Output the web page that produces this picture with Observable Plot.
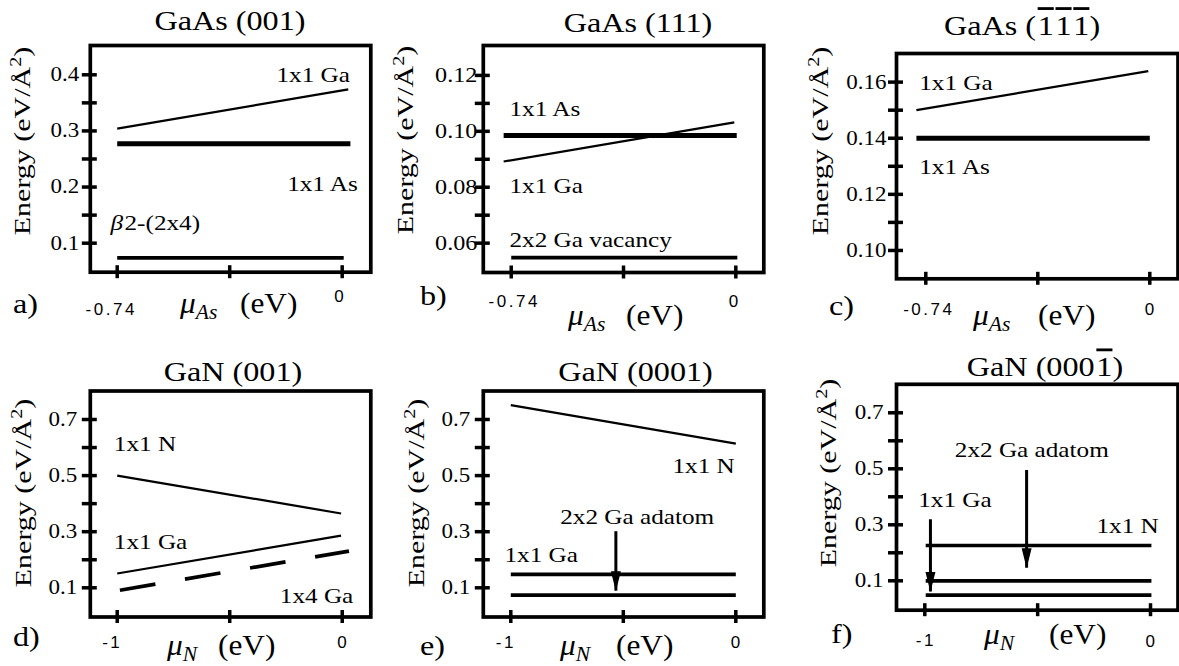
<!DOCTYPE html>
<html><head><meta charset="utf-8">
<script src="https://cdn.jsdelivr.net/npm/d3@7"></script>
<script src="https://cdn.jsdelivr.net/npm/@observablehq/plot@0.6"></script>
<style>
body{margin:0;background:#fff}
#root{position:relative;width:1179px;height:666px;overflow:hidden;background:#fff}
.panel{position:absolute;width:393px;height:333px}
.panel svg{position:absolute;left:0;top:0;overflow:visible}
.ov text, .ov tspan{font-family:"Liberation Serif", serif; fill:#000}
</style></head><body><div id="root"></div>
<script>
// ===================== DATA =====================
const panelTitles = ["GaAs (001)", "GaAs (111)", "GaAs (1\u03041\u03041\u0304)", "GaN (001)", "GaN (0001)", "GaN (0001\u0304)"];
const panelLetters = ["a)", "b)", "c)", "d)", "e)", "f)"];
const muSubscripts = ["As", "As", "As", "N", "N", "N"];

// GaAs (001)
const a_xTicks = [-0.74, -0.37, 0];
const a_xTickText = ["-0.74", "", "0"];
const a_yTicks = [0.1, 0.2, 0.3, 0.4];
const a_yTickText = ["0.1", "0.2", "0.3", "0.4"];
const a_yMinor = [0.15, 0.25, 0.35];
const a_ga1x1_mu = [-0.74, 0.02],  a_ga1x1_E = [0.304, 0.374];
const a_as1x1_mu = [-0.74, 0.027], a_as1x1_E = [0.277, 0.277];
const a_beta_mu  = [-0.74, 0.005], a_beta_E  = [0.074, 0.074];
const a_labelText = ["1x1 Ga", "1x1 As"];
const a_labelMu   = [-0.216, -0.181];
const a_labelE    = [0.3868, 0.1926];
const a_betaLabel = ["\u03b2", "2-(2x4)"]; const a_betaLabelMu = -0.762, a_betaLabelE = 0.1226;

// GaAs (111)
const b_xTicks = [-0.74, -0.37, 0];
const b_xTickText = ["-0.74", "", "0"];
const b_yTicks = [0.06, 0.08, 0.10, 0.12];
const b_yTickText = ["0.06", "0.08", "0.10", "0.12"];
const b_yMinor = [0.07, 0.09, 0.11];
const b_as1x1_mu = [-0.765, 0.003], b_as1x1_E = [0.0985, 0.0985];
const b_ga1x1_mu = [-0.765, -0.005], b_ga1x1_E = [0.0892, 0.1032];
const b_vac_mu   = [-0.74, 0.005],  b_vac_E   = [0.0548, 0.0548];
const b_labelText = ["1x1 As", "1x1 Ga", "2x2 Ga vacancy"];
const b_labelMu   = [-0.7456, -0.7456, -0.7456];
const b_labelE    = [0.1054, 0.0779, 0.0586];

// GaAs (-1-1-1)
const c_xTicks = [-0.74, -0.37, 0];
const c_xTickText = ["-0.74", "", "0"];
const c_yTicks = [0.10, 0.12, 0.14, 0.16];
const c_yTickText = ["0.10", "0.12", "0.14", "0.16"];
const c_yMinor = [0.11, 0.13, 0.15];
const c_ga1x1_mu = [-0.771, -0.005], c_ga1x1_E = [0.150, 0.1639];
const c_as1x1_mu = [-0.771, 0],      c_as1x1_E = [0.140, 0.140];
const c_labelText = ["1x1 Ga", "1x1 As"];
const c_labelMu   = [-0.7618, -0.7618];
const c_labelE    = [0.1573, 0.1273];

// GaN (001)
const d_xTicks = [-1, -0.5, 0];
const d_xTickText = ["-1", "", "0"];
const d_yTicks = [0.1, 0.3, 0.5, 0.7];
const d_yTickText = ["0.1", "0.3", "0.5", "0.7"];
const d_yMinor = [0.2, 0.4, 0.6];
const d_n1x1_mu  = [-1, -0.005],    d_n1x1_E  = [0.500, 0.365];
const d_ga1x1_mu = [-1, -0.005],    d_ga1x1_E = [0.151, 0.286];
const d_ga1x4_mu = [-0.988, 0.03],  d_ga1x4_E = [0.0914, 0.231];
const d_labelText = ["1x1 N", "1x1 Ga", "1x4 Ga"];
const d_labelMu   = [-1.015, -1.015, -0.2773];
const d_labelE    = [0.5884, 0.240, 0.0465];

// GaN (0001)
const e_xTicks = [-1, -0.5, 0];
const e_xTickText = ["-1", "", "0"];
const e_yTicks = [0.1, 0.3, 0.5, 0.7];
const e_yTickText = ["0.1", "0.3", "0.5", "0.7"];
const e_yMinor = [0.2, 0.4, 0.6];
const e_n1x1_mu   = [-1, 0], e_n1x1_E   = [0.751, 0.614];
const e_ga1x1_mu  = [-1, 0], e_ga1x1_E  = [0.148, 0.148];
const e_adatom_mu = [-1, 0], e_adatom_E = [0.0736, 0.0736];
const e_arrowMu = [-0.533], e_arrowFrom = [0.30], e_arrowTo = [0.088];
const e_labelText = ["1x1 N", "2x2 Ga adatom", "1x1 Ga"];
const e_labelMu   = [-0.2813, -0.7804, -1.028];
const e_labelE    = [0.5075, 0.3292, 0.1927];

// GaN (000-1)
const f_xTicks = [-1, -0.5, 0];
const f_xTickText = ["-1", "", "0"];
const f_yTicks = [0.1, 0.3, 0.5, 0.7];
const f_yTickText = ["0.1", "0.3", "0.5", "0.7"];
const f_yMinor = [0.2, 0.4, 0.6];
const f_n1x1_mu   = [-0.996, 0.004], f_n1x1_E   = [0.226, 0.226];
const f_ga1x1_mu  = [-0.996, 0.004], f_ga1x1_E  = [0.100, 0.100];
const f_adatom_mu = [-0.996, 0.004], f_adatom_E = [0.0486, 0.0486];
const f_arrowMu = [-0.975, -0.549], f_arrowFrom = [0.318, 0.494], f_arrowTo = [0.060, 0.145];
const f_labelText = ["2x2 Ga adatom", "1x1 Ga", "1x1 N"];
const f_labelMu   = [-0.867, -1.029, -0.2393];
const f_labelE    = [0.5429, 0.3643, 0.2725];

// ===================== STYLE / LAYOUT =====================
const SERIF = "Liberation Serif", SANS = "Liberation Sans";
const LW = {thin: 2.2, mid: 3.7, thick: 5};
const SX = {title: 1.15, ylab: 1.25, label: 1.2, tick: 1.15, eV: 1.08};
const arrowHead = {draw(ctx) { ctx.moveTo(0, 0); ctx.lineTo(-5, -20); ctx.lineTo(5, -20); ctx.closePath(); }};

const panels = [
  {L: {ox: 0, oy: 0, ml: 89.8, mr: 22.7, mt: 45, mb: 61.3, xd: [-0.8285, 0.0941], yd: [0.0483, 0.4522], yPad: 11, yFont: 20,
       xPad: [30.7, 0, 17.4], xDx: [-6, 0, -2], title: [230, 30], ylab: [30, 141], letter: [13, 313], mu: [180, 313], eV: [240, 313]},
   xTicks: a_xTicks, xTickText: a_xTickText, yTicks: a_yTicks, yTickText: a_yTickText, yMinor: a_yMinor,
   series: [{mu: a_ga1x1_mu, E: a_ga1x1_E, w: "thin"}, {mu: a_as1x1_mu, E: a_as1x1_E, w: "thick"}, {mu: a_beta_mu, E: a_beta_E, w: "mid"}],
   labels: {t: a_labelText, mu: a_labelMu, E: a_labelE}},
  {L: {ox: 393, oy: 0, ml: 89.8, mr: 22.7, mt: 45, mb: 61, xd: [-0.832, 0.0922], yd: [0.0495, 0.1307], yPad: 6, yFont: 21,
       xPad: [22.1, 0, 22.1], xDx: [3, 0, -1], title: [245, 32.3], ylab: [20, 140], letter: [27, 305], mu: [175, 325], eV: [233, 325]},
   xTicks: b_xTicks, xTickText: b_xTickText, yTicks: b_yTicks, yTickText: b_yTickText, yMinor: b_yMinor,
   series: [{mu: b_as1x1_mu, E: b_as1x1_E, w: "thick"}, {mu: b_ga1x1_mu, E: b_ga1x1_E, w: "thin"}, {mu: b_vac_mu, E: b_vac_E, w: "mid"}],
   labels: {t: b_labelText, mu: b_labelMu, E: b_labelE}},
  {L: {ox: 786, oy: 0, ml: 110, mr: 1.5, mt: 53, mb: 54.7, xd: [-0.8368, 0.0932], yd: [0.0899, 0.1702], yPad: 10, yFont: 20,
       xPad: [24.1, 0, 24.1], xDx: [3, 0, 1], title: [236, 35], ylab: [42, 141], letter: [43, 315], mu: [187, 325], eV: [252, 325]},
   xTicks: c_xTicks, xTickText: c_xTickText, yTicks: c_yTicks, yTickText: c_yTickText, yMinor: c_yMinor,
   series: [{mu: c_ga1x1_mu, E: c_ga1x1_E, w: "thin"}, {mu: c_as1x1_mu, E: c_as1x1_E, w: "thick"}],
   labels: {t: c_labelText, mu: c_labelMu, E: c_labelE}},
  {L: {ox: 0, oy: 333, ml: 89.8, mr: 22.7, mt: 57.5, mb: 49.5, xd: [-1.1196, 0.127], yd: [-0.0041, 0.8016], yPad: 13, yFont: 20,
       xPad: [18.9, 0, 18.9], xDx: [-5, 0, 1], title: [233, 48.3], ylab: [31, 160], letter: [13, 313.3], mu: [167, 321.7], eV: [218, 321.7]},
   xTicks: d_xTicks, xTickText: d_xTickText, yTicks: d_yTicks, yTickText: d_yTickText, yMinor: d_yMinor,
   series: [{mu: d_n1x1_mu, E: d_n1x1_E, w: "thin"}, {mu: d_ga1x1_mu, E: d_ga1x1_E, w: "thin"}, {mu: d_ga1x4_mu, E: d_ga1x4_E, w: "mid", dash: "36,30"}],
   labels: {t: d_labelText, mu: d_labelMu, E: d_labelE}},
  {L: {ox: 393, oy: 333, ml: 89.8, mr: 22.7, mt: 57.5, mb: 49.5, xd: [-1.1222, 0.1244], yd: [-0.0041, 0.8016], yPad: 13, yFont: 20,
       xPad: [18.9, 0, 18.9], xDx: [-5, 0, 1], title: [242.5, 48.3], ylab: [31, 160], letter: [27, 322], mu: [167, 321.7], eV: [223, 321.7]},
   xTicks: e_xTicks, xTickText: e_xTickText, yTicks: e_yTicks, yTickText: e_yTickText, yMinor: e_yMinor,
   series: [{mu: e_n1x1_mu, E: e_n1x1_E, w: "thin"}, {mu: e_ga1x1_mu, E: e_ga1x1_E, w: "mid"}, {mu: e_adatom_mu, E: e_adatom_E, w: "mid"}],
   arrows: {mu: e_arrowMu, from: e_arrowFrom, to: e_arrowTo},
   labels: {t: e_labelText, mu: e_labelMu, E: e_labelE}},
  {L: {ox: 786, oy: 333, ml: 110, mr: 1.5, mt: 50.8, mb: 56.3, xd: [-1.1254, 0.1218], yd: [-0.005, 0.8018], yPad: 13, yFont: 20,
       xPad: [24, 0, 24.7], xDx: [1, 0, 1], title: [259, 43.3], ylab: [50, 140], letter: [45, 310], mu: [198, 311], eV: [263, 311]},
   xTicks: f_xTicks, xTickText: f_xTickText, yTicks: f_yTicks, yTickText: f_yTickText, yMinor: f_yMinor,
   series: [{mu: f_n1x1_mu, E: f_n1x1_E, w: "mid"}, {mu: f_ga1x1_mu, E: f_ga1x1_E, w: "mid"}, {mu: f_adatom_mu, E: f_adatom_E, w: "mid"}],
   arrows: {mu: f_arrowMu, from: f_arrowFrom, to: f_arrowTo},
   labels: {t: f_labelText, mu: f_labelMu, E: f_labelE}}
];

// ===================== DRAW =====================
const pts = (mu, E) => mu.map((m, i) => ({mu: m, E: E[i]}));
const root = document.getElementById("root");
const T = (x, y, sx, attrs, inner, extra = "") =>
  `<text transform="translate(${x},${y})${extra} scale(${sx},1)" font-family="Liberation Serif" ${attrs}>${inner}</text>`;

panels.forEach((P, k) => {
  const L = P.L;
  const yText = new Map(P.yTicks.map((v, i) => [v, P.yTickText[i]]));
  const marks = [
    Plot.axisY([...P.yTicks, ...P.yMinor], {tickSize: 15, dx: 7, strokeWidth: 3.5, fill: "none", label: null}),
    Plot.axisY(P.yTicks, {tickSize: 0, tickPadding: L.yPad, tickFormat: v => yText.get(v), fontFamily: SERIF, fontSize: L.yFont, label: null}),
    Plot.axisX(P.xTicks, {tickSize: 13, dy: -6.5, strokeWidth: 3.5, fill: "none", label: null})
  ];
  P.xTicks.forEach((v, i) => {
    if (!P.xTickText[i]) return;
    marks.push(Plot.axisX([v], {tickSize: 0, tickPadding: L.xPad[i], dx: L.xDx[i], tickFormat: () => P.xTickText[i],
      fontFamily: SANS, fontSize: 17, label: null}));
  });
  for (const s of P.series) {
    marks.push(Plot.line(pts(s.mu, s.E), {x: "mu", y: "E", strokeWidth: LW[s.w], strokeLinecap: "butt", strokeDasharray: s.dash}));
  }
  if (P.arrows) {
    const A = P.arrows.mu.map((m, i) => ({mu: m, E1: P.arrows.from[i], E2: P.arrows.to[i]}));
    marks.push(Plot.ruleX(A, {x: "mu", y1: "E1", y2: "E2", strokeWidth: 3}));
    marks.push(Plot.dot(A, {x: "mu", y: "E2", symbol: arrowHead, r: 5, fill: "black", stroke: "none"}));
  }
  const lab = P.labels.t.map((t, i) => ({t, mu: P.labels.mu[i], E: P.labels.E[i]}));
  marks.push(Plot.text(lab, {x: "mu", y: "E", text: "t", textAnchor: "start", lineAnchor: "bottom", fontFamily: SERIF, fontSize: 21}));
  if (k === 0) {
    const B = [{mu: a_betaLabelMu, E: a_betaLabelE}];
    marks.push(Plot.text(B, {x: "mu", y: "E", text: () => a_betaLabel[0], textAnchor: "start", lineAnchor: "bottom", fontFamily: SERIF, fontStyle: "italic", fontSize: 21}));
    marks.push(Plot.text(B, {x: "mu", y: "E", text: () => a_betaLabel[1], dx: 14, textAnchor: "start", lineAnchor: "bottom", fontFamily: SERIF, fontSize: 21}));
  }
  marks.push(Plot.frame({strokeWidth: 3.7}));

  const svg = Plot.plot({
    width: 393, height: 333,
    marginLeft: L.ml, marginRight: L.mr, marginTop: L.mt, marginBottom: L.mb,
    x: {domain: L.xd}, y: {domain: L.yd},
    style: {background: "transparent", color: "black"},
    marks
  });
  svg.querySelectorAll(`g[font-family="${SANS}"]`).forEach(g => g.style.letterSpacing = "2.5px");
  svg.querySelectorAll(`g[font-family="${SERIF}"] text`).forEach(t => {
    const isTick = (t.parentNode.getAttribute("aria-label") || "").includes("tick");
    const tr = t.getAttribute("transform") || "";
    t.setAttribute("transform", `${tr} scale(${isTick ? SX.tick : SX.label},1)`);
  });

  const div = document.createElement("div");
  div.className = "panel";
  div.style.left = L.ox + "px"; div.style.top = L.oy + "px";
  div.appendChild(svg);

  const title = panelTitles[k].replace(/(\d)\u0304/g, '<tspan dx="1.5" style="text-decoration:overline">$1</tspan>');
  const ov = document.createElementNS("http://www.w3.org/2000/svg", "svg");
  ov.setAttribute("width", 393); ov.setAttribute("height", 333);
  ov.setAttribute("class", "ov");
  ov.innerHTML =
    T(L.title[0], L.title[1], SX.title, 'font-size="28" text-anchor="middle"', title) +
    T(L.ylab[0], L.ylab[1], SX.ylab, 'font-size="24" text-anchor="middle"',
      'Energy (eV/Å<tspan font-size="16" dy="-9">2</tspan><tspan dy="9">)</tspan>', " rotate(-90)") +
    T(L.letter[0], L.letter[1], SX.title, 'font-size="28"', panelLetters[k]) +
    T(L.mu[0], L.mu[1], SX.eV, 'font-size="29"',
      `<tspan font-style="italic">μ</tspan><tspan font-style="italic" font-size="20" dy="6">${muSubscripts[k]}</tspan>`) +
    T(L.eV[0], L.eV[1], SX.eV, 'font-size="29"', "(eV)");
  div.appendChild(ov);
  root.appendChild(div);
});
</script></body></html>
